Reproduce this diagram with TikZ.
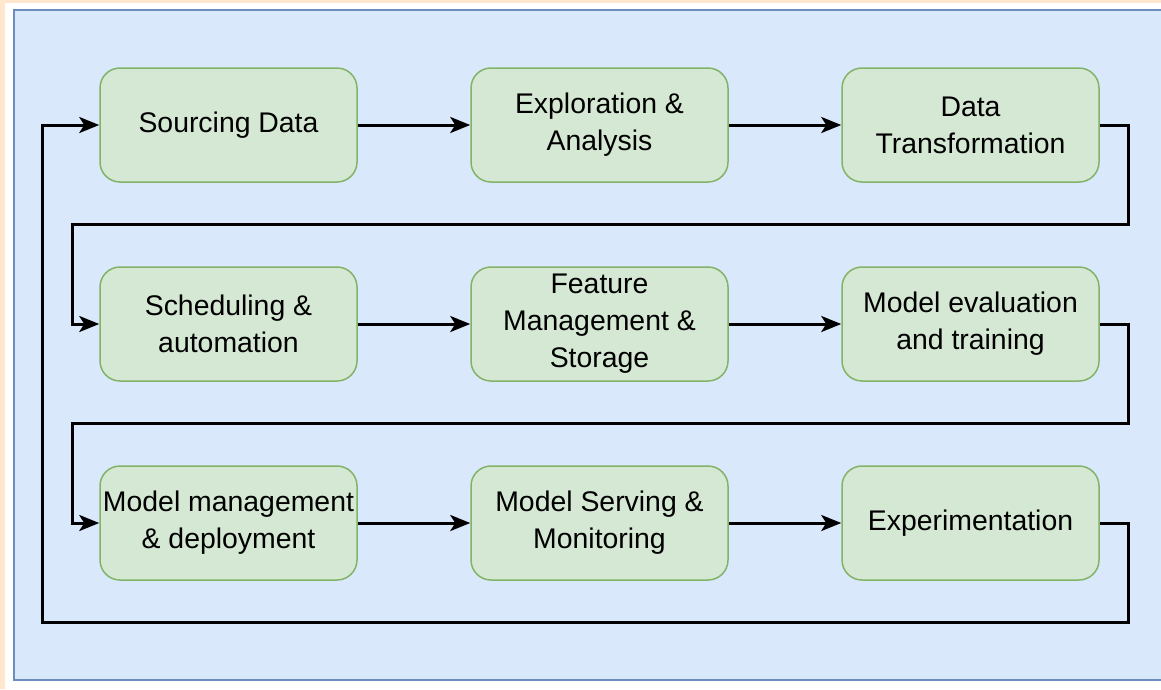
\documentclass[tikz,border=0pt]{standalone}
\usepackage{fontspec}
\setmainfont{Liberation Sans}
\usetikzlibrary{arrows.meta}
\definecolor{peach}{HTML}{FFE6CC}
\definecolor{bluefill}{HTML}{DAE8FC}
\definecolor{blueline}{HTML}{6C8EBF}
\definecolor{greenfill}{HTML}{D5E8D4}
\definecolor{greenline}{HTML}{82B366}
\tikzset{
  stage/.style={draw=greenline, fill=greenfill, line width=1.5pt, rounded corners=20pt,
    minimum width=257pt, minimum height=114pt, inner sep=0pt, align=center,
    font=\fontsize{28.4}{37}\selectfont, text=black},
  flow/.style={draw=black, line width=3pt, -{Stealth[length=20pt,width=16pt,inset=5pt]}},
}
\begin{document}
\begin{tikzpicture}[x=1pt,y=-1pt]
\useasboundingbox (0,0) rectangle (1161,689);
\fill[peach] (0,0) rectangle (1161,689);
\fill[white] (5,3) rectangle (1161,689);
\draw[blueline, fill=bluefill, line width=1.5pt] (14,10) rectangle (1170,680);
\node[stage] (n1) at (228.5,125) {Sourcing Data};
\node[stage] (n2) at (599.5,125) {Exploration \&\\Analysis};
\node[stage] (n3) at (970.5,125) {Data\\Transformation};
\node[stage] (n4) at (228.5,324) {Scheduling \&\\automation};
\node[stage] (n5) at (599.5,324) {Feature\\Management \&\\Storage};
\node[stage] (n6) at (970.5,324) {Model evaluation\\and training};
\node[stage] (n7) at (228.5,523) {Model management\\\& deployment};
\node[stage] (n8) at (599.5,523) {Model Serving \&\\Monitoring};
\node[stage] (n9) at (970.5,523) {Experimentation};
\draw[flow] (n1) -- (n2);
\draw[flow] (n2) -- (n3);
\draw[flow] (n4) -- (n5);
\draw[flow] (n5) -- (n6);
\draw[flow] (n7) -- (n8);
\draw[flow] (n8) -- (n9);
\draw[flow] (n3.east) -- (1128,125) -- (1128,224) -- (72,224) -- (72,324) -- (n4.west);
\draw[flow] (n6.east) -- (1128,324) -- (1128,423) -- (72,423) -- (72,523) -- (n7.west);
\draw[flow] (n9.east) -- (1128,523) -- (1128,622) -- (42,622) -- (42,125) -- (n1.west);
\end{tikzpicture}
\end{document}
